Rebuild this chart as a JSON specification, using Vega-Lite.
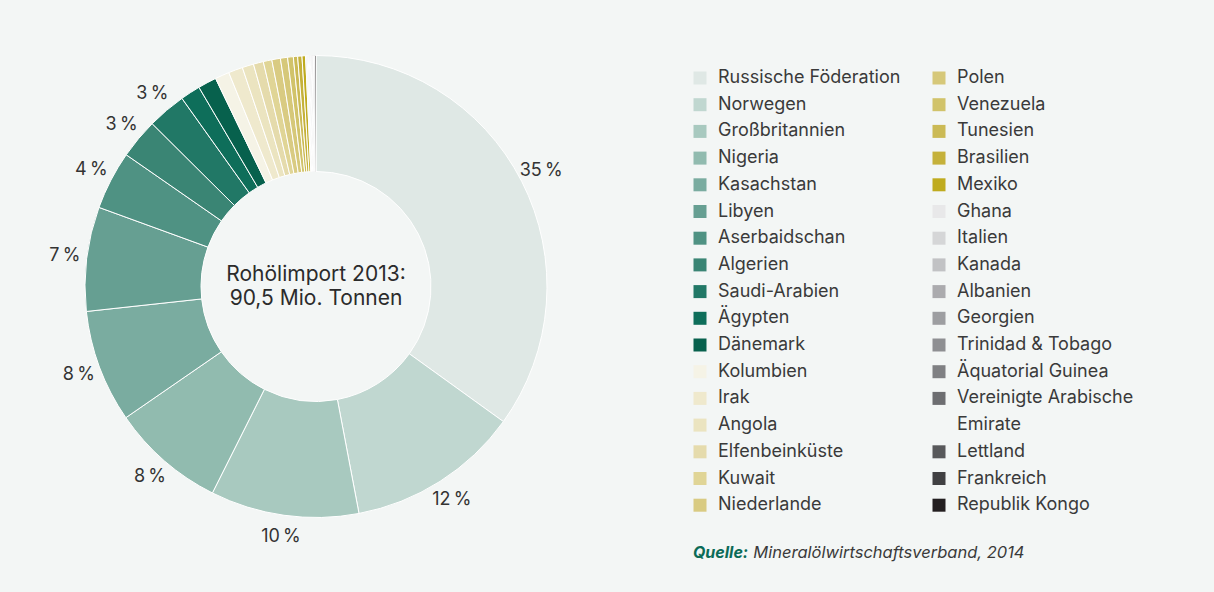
{
  "$schema": "https://vega.github.io/schema/vega-lite/v6.json",
  "width": 632,
  "height": 573,
  "autosize": {"type": "none"},
  "padding": {"left": 0, "top": 0, "right": 582, "bottom": 19},
  "background": "#f3f6f5",
  "config": {"view": {"stroke": null}, "font": "Inter"},
  "title": {
    "text": "Quelle:",
    "subtitle": "\u200b\u00a0\u00a0\u00a0\u00a0\u00a0\u00a0\u00a0\u00a0\u00a0\u00a0\u00a0\u00a0\u00a0Mineralölwirtschaftsverband, 2014",
    "orient": "bottom",
    "anchor": "start",
    "frame": "group",
    "dx": 693,
    "offset": -28,
    "font": "Inter",
    "fontSize": 16,
    "fontStyle": "italic",
    "fontWeight": "bold",
    "color": "#0b6b57",
    "subtitleFont": "Inter",
    "subtitleFontSize": 16.5,
    "subtitleFontStyle": "italic",
    "subtitleFontWeight": "normal",
    "subtitleColor": "#3a3a3a",
    "subtitlePadding": -16.5
  },
  "datasets": {
    "imports": [
      {"land": "Russische Föderation", "anteil": 35.0, "reihenfolge": 1, "label": "35\u2009%"},
      {"land": "Norwegen", "anteil": 12.1, "reihenfolge": 2, "label": "12\u2009%"},
      {"land": "Großbritannien", "anteil": 10.4, "reihenfolge": 3, "label": "10\u2009%"},
      {"land": "Nigeria", "anteil": 8.0, "reihenfolge": 4, "label": "8\u2009%"},
      {"land": "Kasachstan", "anteil": 7.9, "reihenfolge": 5, "label": "8\u2009%"},
      {"land": "Libyen", "anteil": 7.3, "reihenfolge": 6, "label": "7\u2009%"},
      {"land": "Aserbaidschan", "anteil": 4.1, "reihenfolge": 7, "label": "4\u2009%"},
      {"land": "Algerien", "anteil": 2.8, "reihenfolge": 8, "label": "3\u2009%"},
      {"land": "Saudi-Arabien", "anteil": 2.7, "reihenfolge": 9, "label": "3\u2009%"},
      {"land": "Ägypten", "anteil": 1.4, "reihenfolge": 10, "label": ""},
      {"land": "Dänemark", "anteil": 1.3, "reihenfolge": 11, "label": ""},
      {"land": "Kolumbien", "anteil": 1.0, "reihenfolge": 12, "label": ""},
      {"land": "Irak", "anteil": 1.0, "reihenfolge": 13, "label": ""},
      {"land": "Angola", "anteil": 0.8, "reihenfolge": 14, "label": ""},
      {"land": "Elfenbeinküste", "anteil": 0.7, "reihenfolge": 15, "label": ""},
      {"land": "Kuwait", "anteil": 0.6, "reihenfolge": 16, "label": ""},
      {"land": "Niederlande", "anteil": 0.6, "reihenfolge": 17, "label": ""},
      {"land": "Polen", "anteil": 0.5, "reihenfolge": 18, "label": ""},
      {"land": "Venezuela", "anteil": 0.4, "reihenfolge": 19, "label": ""},
      {"land": "Tunesien", "anteil": 0.3, "reihenfolge": 20, "label": ""},
      {"land": "Brasilien", "anteil": 0.3, "reihenfolge": 21, "label": ""},
      {"land": "Mexiko", "anteil": 0.25, "reihenfolge": 22, "label": ""},
      {"land": "Ghana", "anteil": 0.1, "reihenfolge": 23, "label": ""},
      {"land": "Italien", "anteil": 0.08, "reihenfolge": 24, "label": ""},
      {"land": "Kanada", "anteil": 0.07, "reihenfolge": 25, "label": ""},
      {"land": "Albanien", "anteil": 0.07, "reihenfolge": 26, "label": ""},
      {"land": "Georgien", "anteil": 0.06, "reihenfolge": 27, "label": ""},
      {"land": "Trinidad & Tobago", "anteil": 0.06, "reihenfolge": 28, "label": ""},
      {"land": "Äquatorial Guinea", "anteil": 0.05, "reihenfolge": 29, "label": ""},
      {"land": "Vereinigte Arabische Emirate", "anteil": 0.05, "reihenfolge": 30, "label": ""},
      {"land": "Lettland", "anteil": 0.04, "reihenfolge": 31, "label": ""},
      {"land": "Frankreich", "anteil": 0.04, "reihenfolge": 32, "label": ""},
      {"land": "Republik Kongo", "anteil": 0.1, "reihenfolge": 33, "label": ""}
    ],
    "mitte": [
      {"text": "Rohölimport 2013:\n90,5 Mio. Tonnen"}
    ]
  },
  "layer": [
    {
      "data": {"name": "imports"},
      "mark": {"type": "arc", "outerRadius": 231, "innerRadius": 115, "stroke": "#ffffff", "strokeWidth": 1},
      "encoding": {
        "theta": {"field": "anteil", "type": "quantitative", "stack": true},
        "order": {"field": "reihenfolge", "type": "quantitative"},
        "color": {
          "field": "land",
          "type": "nominal",
          "scale": {
            "domain": ["Russische Föderation", "Norwegen", "Großbritannien", "Nigeria", "Kasachstan", "Libyen", "Aserbaidschan", "Algerien", "Saudi-Arabien", "Ägypten", "Dänemark", "Kolumbien", "Irak", "Angola", "Elfenbeinküste", "Kuwait", "Niederlande", "Polen", "Venezuela", "Tunesien", "Brasilien", "Mexiko", "Ghana", "Italien", "Kanada", "Albanien", "Georgien", "Trinidad & Tobago", "Äquatorial Guinea", "Vereinigte Arabische Emirate", "Emirate", "Lettland", "Frankreich", "Republik Kongo"],
            "range": ["#dfe8e5", "#c0d7d0", "#a8c9bf", "#91bbaf", "#7aaca0", "#669f92", "#4f9283", "#3a8574", "#217866", "#0e6e5a", "#07614d", "#f5f3e6", "#efe9cd", "#ebe4c0", "#e5dbac", "#e0d596", "#d9cb82", "#d6c879", "#d1c36a", "#cbba55", "#c5b13a", "#bfab1e", "#e8e8e9", "#d5d6d7", "#c1c2c4", "#ababae", "#9d9ea1", "#8e8f92", "#7f8083", "#6d6e71", "rgba(0,0,0,0)", "#58595b", "#404042", "#231f20"]
          },
          "legend": {
            "title": null,
            "orient": "none",
            "legendX": 691,
            "legendY": 69,
            "columns": 2,
            "columnPadding": 29,
            "rowPadding": 8.7,
            "symbolLimit": 0,
            "symbolType": "square",
            "symbolSize": 169,
            "symbolStrokeWidth": 0,
            "symbolOpacity": 1,
            "labelOffset": 9,
            "labelFont": "Inter",
            "labelFontSize": 18,
            "labelColor": "#3a3a3a",
            "labelLimit": 300,
            "labelExpr": "datum.label == 'Vereinigte Arabische Emirate' ? 'Vereinigte Arabische' : datum.label"
          }
        }
      }
    },
    {
      "data": {"name": "imports"},
      "mark": {"type": "text", "radius": 253, "font": "Inter", "fontSize": 18, "color": "#333333"},
      "encoding": {
        "theta": {"field": "anteil", "type": "quantitative", "stack": true},
        "order": {"field": "reihenfolge", "type": "quantitative"},
        "text": {"field": "label", "type": "nominal"}
      }
    },
    {
      "data": {"name": "mitte"},
      "mark": {"type": "text", "font": "Inter", "fontSize": 21, "color": "#2b2b2b", "lineBreak": "\n", "lineHeight": 24, "align": "center", "baseline": "middle", "dy": -12},
      "encoding": {
        "text": {"field": "text", "type": "nominal"}
      }
    }
  ]
}
